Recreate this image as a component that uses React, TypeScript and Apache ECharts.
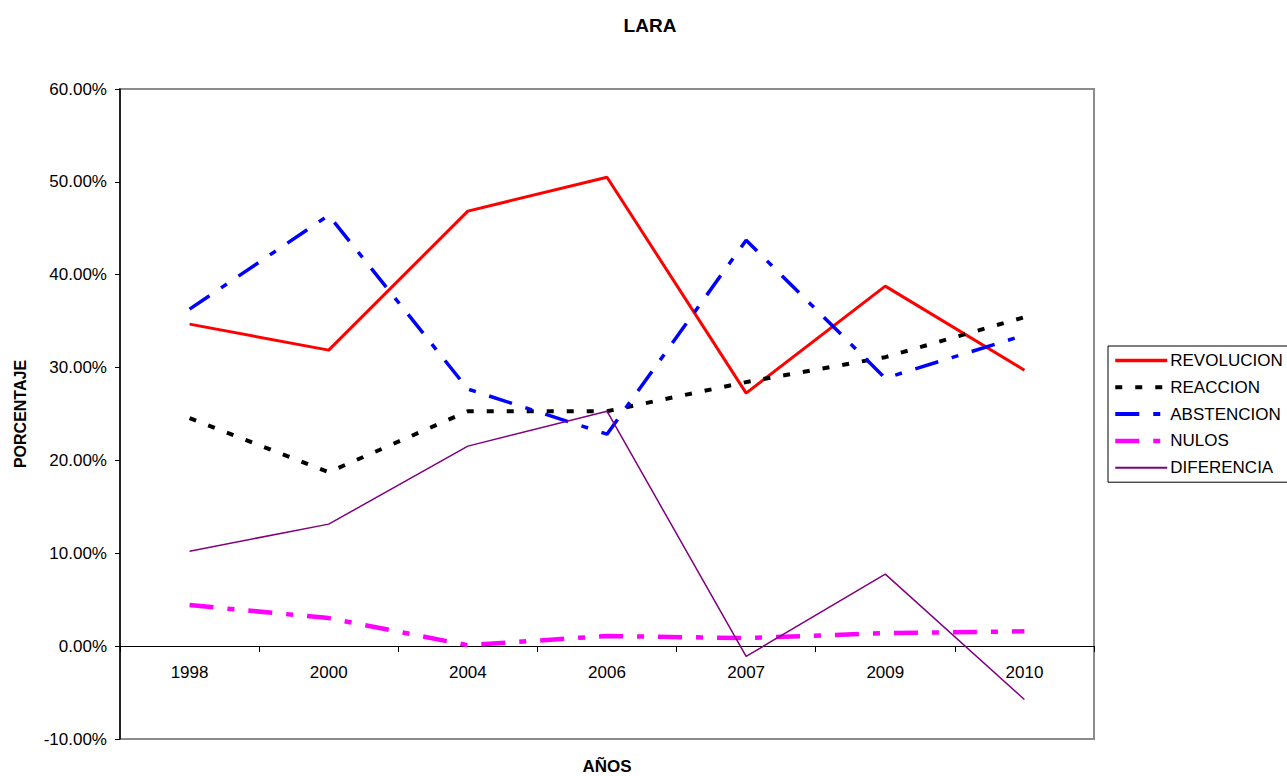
import React, { useEffect, useRef } from "react";
import * as echarts from "echarts";

const years = ["1998", "2000", "2004", "2006", "2007", "2009", "2010"];
const revolucion = [34.68, 31.88, 46.85, 50.5, 27.25, 38.77, 29.72];
const reaccion = [24.55, 18.74, 25.3, 25.3, 28.43, 31.12, 35.43];
const abstencion = [36.29, 46.41, 27.68, 22.83, 43.72, 28.86, 33.49];
const nulos = [4.42, 3.02, 0.1, 1.1, 0.86, 1.4, 1.6];
const diferencia = [10.23, 13.14, 21.54, 25.3, -1.1, 7.75, -5.75];

const FONT = "'Liberation Sans', Arial, sans-serif";
const Y_MIN = -10;
const Y_MAX = 60;
const GRID_TOP = 89;
const GRID_BOTTOM = 37;
const CHART_H = 776;

const DASH_DOT = [24, 14, 7, 14];

export default function App() {
  const ref = useRef<HTMLDivElement>(null);
  useEffect(() => {
    if (!ref.current) return;
    const chart = echarts.init(ref.current, null, { renderer: "svg" });
    const gridH = CHART_H - GRID_TOP - GRID_BOTTOM;
    const zeroOffset = (gridH * (0 - Y_MIN)) / (Y_MAX - Y_MIN);
    const mk = (name: string, data: number[], color: string, width: number, type: any) => ({
      name,
      type: "line",
      data,
      symbol: "none",
      showSymbol: false,
      lineStyle: { color, width, type, cap: "butt" },
      itemStyle: { color },
    });
    const leg = (name: string, color: string, width: number, type: any) => ({
      name,
      itemStyle: { color: "transparent", borderWidth: 0, opacity: 0 },
      lineStyle: { color, width, type, cap: "butt" },
    });
    chart.setOption({
      animation: false,
      backgroundColor: "#ffffff",
      textStyle: { fontFamily: FONT },
      title: {
        text: "LARA",
        left: 645,
        textAlign: "center",
        top: 11,
        textStyle: { fontSize: 19, fontWeight: "bold", color: "#000", fontFamily: FONT },
      },
      legend: {
        orient: "vertical",
        left: 1108,
        top: 346,
        padding: [6, 10, 6, 5],
        itemWidth: 52,
        itemHeight: 14,
        itemGap: 9.8,
        borderColor: "#000",
        borderWidth: 1,
        itemStyle: { color: "transparent", borderWidth: 0, opacity: 0 },
        textStyle: { fontSize: 17, color: "#000", fontFamily: FONT, padding: [0, 0, 0, -2] },
        data: [
          leg("REVOLUCION", "#ff0000", 3.5, "solid"),
          leg("REACCION", "#000000", 4, [7, 13]),
          leg("ABSTENCION", "#0000ff", 4, [24, 14, 7, 14]),
          leg("NULOS", "#ff00ff", 4.5, [24, 14, 7, 14]),
          leg("DIFERENCIA", "#800080", 2, "solid"),
        ],
      },
      grid: {
        left: 120,
        top: GRID_TOP,
        right: 193,
        bottom: GRID_BOTTOM,
        outerBoundsMode: "none",
        containLabel: false,
        show: true,
        borderColor: "#8c8c8c",
        borderWidth: 2,
        backgroundColor: "#ffffff",
      },
      xAxis: {
        type: "category",
        data: years,
        boundaryGap: true,
        position: "bottom",
        offset: -zeroOffset,
        name: "AÑOS",
        nameLocation: "middle",
        nameGap: 112,
        nameTextStyle: { fontSize: 17, fontWeight: "bold", color: "#000", fontFamily: FONT },
        axisLine: { onZero: false, lineStyle: { color: "#000", width: 1 } },
        axisTick: { show: true, length: 6, lineStyle: { color: "#000" } },
        axisLabel: { fontSize: 17, color: "#000", margin: 18, fontFamily: FONT },
        splitLine: { show: false },
      },
      yAxis: {
        type: "value",
        min: Y_MIN,
        max: Y_MAX,
        interval: 10,
        name: "PORCENTAJE",
        nameLocation: "middle",
        nameGap: 92,
        nameTextStyle: { fontSize: 16, fontWeight: "bold", color: "#000", fontFamily: FONT },
        axisLine: { show: true, lineStyle: { color: "#000", width: 1.5 } },
        axisTick: { show: true, length: 5, lineStyle: { color: "#000" } },
        axisLabel: {
          fontSize: 17,
          color: "#000",
          margin: 13,
          fontFamily: FONT,
          formatter: (v: number) => v.toFixed(2) + "%",
        },
        splitLine: { show: false },
      },
      series: [
        mk("REVOLUCION", revolucion, "#ff0000", 3, "solid"),
        mk("REACCION", reaccion, "#000000", 4, [7, 13]),
        mk("ABSTENCION", abstencion, "#0000ff", 3.5, DASH_DOT),
        mk("NULOS", nulos, "#ff00ff", 4.5, DASH_DOT),
        mk("DIFERENCIA", diferencia, "#800080", 1.5, "solid"),
      ],
    });
    return () => chart.dispose();
  }, []);
  return (
    <div
      ref={ref}
      style={{ position: "fixed", left: 0, top: 0, width: 1287, height: 776, background: "#fff" }}
    />
  );
}
